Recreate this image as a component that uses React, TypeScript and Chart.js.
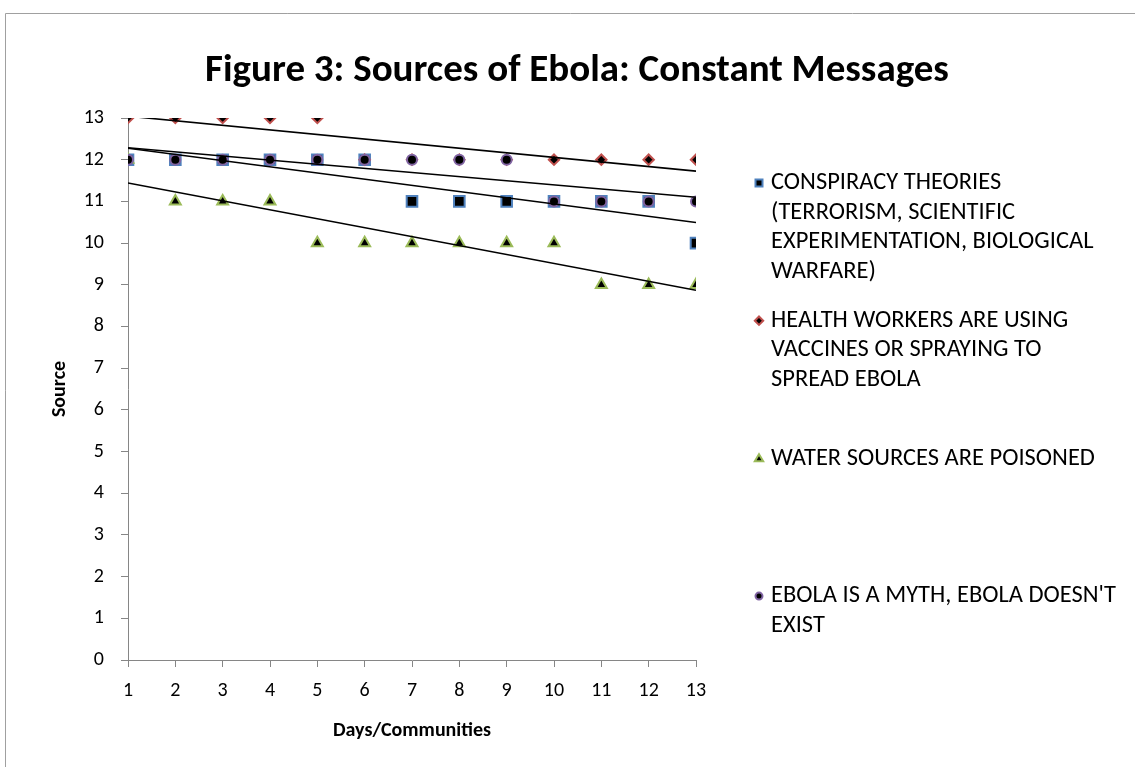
import { useEffect, useRef } from "react";
import { Chart, registerables } from "chart.js";

Chart.register(...registerables);

// Day / community index along the horizontal axis
const days = [1, 2, 3, 4, 5, 6, 7, 8, 9, 10, 11, 12, 13];

// Source codes reported for each message type
const conspiracyTheories = [12, 12, 12, 12, 12, 12, 11, 11, 11, 11, 11, 11, 10];
const healthWorkers = [13, 13, 13, 13, 13, 12, 12, 12, 12, 12, 12, 12, 12];
const waterPoisoned = [12, 11, 11, 11, 10, 10, 10, 10, 10, 10, 9, 9, 9];
const ebolaMyth = [12, 12, 12, 12, 12, 12, 12, 12, 12, 11, 11, 11, 11];

const legendConspiracy = ["CONSPIRACY THEORIES", "(TERRORISM, SCIENTIFIC", "EXPERIMENTATION, BIOLOGICAL", "WARFARE)"];
const legendHealth = ["HEALTH WORKERS ARE USING", "VACCINES OR SPRAYING TO", "SPREAD EBOLA"];
const legendWater = ["WATER SOURCES ARE POISONED"];
const legendMyth = ["EBOLA IS A MYTH, EBOLA DOESN'T", "EXIST"];

const chartTitle = "Figure 3: Sources of Ebola: Constant Messages";
const xTitle = "Days/Communities";
const yTitle = "Source";

const FONT = "Carlito, Lato, 'Open Sans', sans-serif";
const AXIS_GREY = "#868686";

const BLUE = "#4f81bd";
const RED = "#c0504d";
const GREEN = "#9bbb59";
const PURPLE = "#8064a2";

// Ordinary least-squares linear trendline across the full x range
function trendline(xs: number[], ys: number[]) {
  const n = xs.length;
  const mx = xs.reduce((a, b) => a + b, 0) / n;
  const my = ys.reduce((a, b) => a + b, 0) / n;
  let sxy = 0;
  let sxx = 0;
  for (let i = 0; i < n; i++) {
    sxy += (xs[i] - mx) * (ys[i] - my);
    sxx += (xs[i] - mx) * (xs[i] - mx);
  }
  const slope = sxy / sxx;
  const icpt = my - slope * mx;
  const x0 = xs[0];
  const x1 = xs[n - 1];
  return [
    { x: x0, y: icpt + slope * x0 },
    { x: x1, y: icpt + slope * x1 },
  ];
}

const toPoints = (ys: number[]) => days.map((d, i) => ({ x: d, y: ys[i] }));

type MarkerKind = "square" | "diamond" | "triangle" | "circle";

function drawMarker(ctx: CanvasRenderingContext2D, kind: MarkerKind, x: number, y: number, size: number, stroke: string) {
  ctx.save();
  ctx.fillStyle = "#000";
  ctx.strokeStyle = stroke;
  ctx.lineWidth = 2;
  ctx.beginPath();
  if (kind === "square") {
    ctx.rect(x - size / 2, y - size / 2, size, size);
  } else if (kind === "diamond") {
    const h = size * 0.6;
    ctx.moveTo(x, y - h);
    ctx.lineTo(x + h, y);
    ctx.lineTo(x, y + h);
    ctx.lineTo(x - h, y);
    ctx.closePath();
  } else if (kind === "triangle") {
    const h = size * 0.6;
    ctx.moveTo(x, y - h);
    ctx.lineTo(x + h, y + h * 0.7);
    ctx.lineTo(x - h, y + h * 0.7);
    ctx.closePath();
  } else {
    ctx.arc(x, y, size / 2, 0, Math.PI * 2);
  }
  ctx.fill();
  ctx.stroke();
  ctx.restore();
}

// Legend entries sit in equal-height slots down the right-hand side
const LEGEND_TOP = 183;
const LEGEND_SLOT = 137.7;
const LEGEND_LINE = 29.5;
const legendItems: { kind: MarkerKind; color: string; lines: string[] }[] = [
  { kind: "square", color: BLUE, lines: legendConspiracy },
  { kind: "diamond", color: RED, lines: legendHealth },
  { kind: "triangle", color: GREEN, lines: legendWater },
  { kind: "circle", color: PURPLE, lines: legendMyth },
];

const decorPlugin = {
  id: "decor",
  beforeDraw(chart: Chart) {
    const ctx = chart.ctx;
    ctx.save();
    ctx.fillStyle = "#fff";
    ctx.fillRect(0, 0, chart.width, chart.height);
    // outer chart frame
    ctx.strokeStyle = "#a0a0a0";
    ctx.lineWidth = 1;
    ctx.beginPath();
    ctx.moveTo(5.5, chart.height);
    ctx.lineTo(5.5, 13.5);
    ctx.lineTo(chart.width, 13.5);
    ctx.stroke();
    ctx.restore();
  },
  afterDraw(chart: Chart) {
    const ctx = chart.ctx;
    ctx.save();
    ctx.fillStyle = "#000";
    ctx.font = `bold 39px ${FONT}`;
    ctx.textAlign = "center";
    ctx.textBaseline = "middle";
    ctx.fillText(chartTitle, 577, 71);

    ctx.font = `24.5px ${FONT}`;
    ctx.textAlign = "left";
    legendItems.forEach((item, k) => {
      const y0 = LEGEND_TOP + k * LEGEND_SLOT;
      drawMarker(ctx, item.kind, 759, y0, 7, item.color);
      item.lines.forEach((line, i) => {
        ctx.fillStyle = "#000";
        ctx.fillText(line, 771, y0 + i * LEGEND_LINE);
      });
    });
    ctx.restore();
  },
};

export default function App() {
  const ref = useRef<HTMLCanvasElement>(null);

  useEffect(() => {
    if (!ref.current) return;
    const markerBase = { backgroundColor: "#000", borderWidth: 2, showLine: false };
    const trendBase = {
      showLine: true,
      pointRadius: 0,
      borderColor: "#000",
      borderWidth: 1.6,
      backgroundColor: "#000",
      order: 0,
    };
    const chart = new Chart(ref.current, {
      type: "scatter",
      data: {
        datasets: [
          { ...markerBase, label: legendConspiracy.join(" "), data: toPoints(conspiracyTheories), pointStyle: "rect", pointRadius: 7.5, borderColor: BLUE, order: 4 },
          { ...markerBase, label: legendHealth.join(" "), data: toPoints(healthWorkers), pointStyle: "rectRot", pointRadius: 5.2, borderColor: RED, order: 3 },
          { ...markerBase, label: legendWater.join(" "), data: toPoints(waterPoisoned), pointStyle: "triangle", pointRadius: 6.3, borderColor: GREEN, order: 2 },
          { ...markerBase, label: legendMyth.join(" "), data: toPoints(ebolaMyth), pointStyle: "circle", pointRadius: 5, borderColor: PURPLE, order: 1 },
          { ...trendBase, label: "trend 1", data: trendline(days, conspiracyTheories) },
          { ...trendBase, label: "trend 2", data: trendline(days, healthWorkers) },
          { ...trendBase, label: "trend 3", data: trendline(days, waterPoisoned) },
          { ...trendBase, label: "trend 4", data: trendline(days, ebolaMyth) },
        ],
      },
      options: {
        responsive: false,
        animation: false,
        layout: { padding: { left: 10, right: 1135 - 696, top: 118, bottom: 0 } },
        plugins: {
          legend: { display: false },
          tooltip: { enabled: false },
          title: { display: false },
        },
        scales: {
          x: {
            type: "linear",
            min: 1,
            max: 13,
            afterFit: (s: any) => {
              s.height = 767 - 660;
            },
            ticks: { stepSize: 1, padding: 12, color: "#000", font: { family: FONT, size: 20 } },
            grid: { drawOnChartArea: false, drawTicks: true, tickLength: 7, color: AXIS_GREY },
            border: { display: true, color: AXIS_GREY, width: 1 },
            title: {
              display: true,
              text: xTitle,
              color: "#000",
              font: { family: FONT, size: 20, weight: "bold" },
              padding: { top: 0, bottom: 24 },
            },
          },
          y: {
            type: "linear",
            min: 0,
            max: 13,
            afterFit: (s: any) => {
              s.width = 128 - 10;
            },
            ticks: { stepSize: 1, padding: 17, color: "#000", font: { family: FONT, size: 20 } },
            grid: { drawOnChartArea: false, drawTicks: true, tickLength: 7, color: AXIS_GREY },
            border: { display: true, color: AXIS_GREY, width: 1 },
            title: {
              display: true,
              text: yTitle,
              color: "#000",
              font: { family: FONT, size: 20, weight: "bold" },
              padding: { top: 38, bottom: 0 },
            },
          },
        },
      },
      plugins: [decorPlugin],
    });
    return () => chart.destroy();
  }, []);

  return (
    <div style={{ position: "fixed", left: 0, top: 0, width: 1135, height: 767, background: "#fff" }}>
      <canvas ref={ref} width={1135} height={767} style={{ display: "block" }} />
    </div>
  );
}
